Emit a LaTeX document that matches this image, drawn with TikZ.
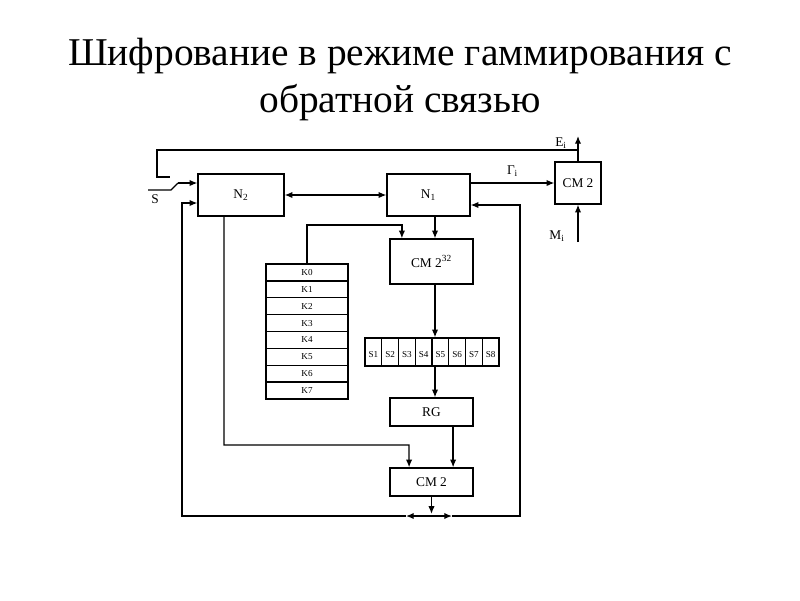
\documentclass[tikz,border=0pt]{standalone}
\usepackage{fontspec}
\setmainfont{Liberation Serif}
\usetikzlibrary{arrows.meta}

\begin{document}
\begin{tikzpicture}[x=0.025cm, y=-0.025cm, line width=0.9pt,
  block/.style={draw, inner sep=0pt, font={\fontsize{9.5}{11}\selectfont}},
  kcell/.style={draw, inner sep=0pt, minimum width=2.05cm, minimum height=0.422cm,
    font={\fontsize{6.5}{7}\selectfont}},
  scell/.style={draw, inner sep=0pt, minimum width=0.419cm, minimum height=0.7cm,
    text height=1.6ex, text depth=0pt, font={\fontsize{6.5}{7}\selectfont}},
  lbl/.style={inner sep=0pt, font={\fontsize{9.5}{11}\selectfont}},
  arr/.style={-{Latex[length=5.5pt,width=4.5pt]}},
  arrboth/.style={{Latex[length=5.5pt,width=4.5pt]}-{Latex[length=5.5pt,width=4.5pt]}}]

\useasboundingbox (0,0) rectangle (800,600);

\node [align=center, inner sep=0pt, anchor=north, font={\fontsize{28}{33}\selectfont}] (title)
 at (400, 38) {Шифрование в режиме гаммирования с\\обратной связью};

\node [block, minimum width=2.15cm, minimum height=1.05cm] (N2) at (241, 195) {N\textsubscript{2}};
\node [block, minimum width=2.075cm, minimum height=1.05cm] (N1) at (428.5, 195) {N\textsubscript{1}};
\node [block, minimum width=1.15cm, minimum height=1.05cm] (CMr) at (578, 183) {СМ 2};
\node [block, minimum width=2.075cm, minimum height=1.125cm] (CM32) at (431.5, 261.5) {СМ 2\textsuperscript{32}};
\node [block, minimum width=2.075cm, minimum height=0.7cm] (RG) at (431.5, 412) {RG};
\node [block, minimum width=2.075cm, minimum height=0.7cm] (CMb) at (431.5, 482) {СМ 2};

\foreach \i in {0,...,7}
  \node [kcell] (k\i) at (307, {264+16.875*(\i+0.5)}) {K\i};

\foreach \i in {1,...,8}
  \node [scell] (s\i) at ({365+16.75*(\i-0.5)}, 352) {S\i};

\coordinate (col) at (435, 0);
\coordinate (ejoin) at (578, 150);
\coordinate (eout) at (578, 136);
\coordinate (min) at (578, 242);
\coordinate (fb) at (157, 177);
\coordinate (swtop) at (170, 177);
\coordinate (sin) at (148, 190);
\coordinate (swpivot) at (171, 190);
\coordinate (swblade) at (178, 183);
\coordinate (kup) at (307, 225);
\coordinate (n2d) at (224, 445);
\coordinate (bjoin) at (431.5, 516);
\coordinate (bl) at (406, 516);
\coordinate (br) at (452, 516);
\coordinate (lc) at (182, 516);
\coordinate (rc) at (520, 516);

% feedback and key switch
\draw (ejoin) -| (fb) -- (swtop);
\draw (sin) -- (swpivot) -- (swblade);
\draw [arr] (swblade) -- (swblade -| N2.west);
\node [lbl] (S) at (155, 199) {S};

\draw [arrboth] (N2.east) -- (N1.west);
\draw [arr] (CMr.west -| N1.east) -- node [lbl, above=4pt] (gamma) {Γ\textsubscript{i}} (CMr.west);
\draw [arr] (CMr.north) -- (eout);
\node [lbl] (E) at (561, 143) {E\textsubscript{i}};
\draw [arr] (min) -- (CMr.south);
\node [lbl] (M) at (557, 236) {M\textsubscript{i}};

\draw [arr] (N1.south -| col) -- (CM32.north -| col);
\draw [arr] (k0.north) -- (kup) -| ([xshift=-0.74cm]CM32.north);
\draw [arr] (CM32.south -| col) -- (s5.north -| col);
\draw [arr] (s5.south -| col) -- (RG.north -| col);
\draw [arr] ([xshift=0.54cm]RG.south) -- ([xshift=0.54cm]CMb.north);
\draw [arr] ([xshift=-0.425cm]N2.south) -- (n2d) -| ([xshift=-0.56cm]CMb.north);

% output loop back to N2 and N1
\draw [arr] (CMb.south) -- ([yshift=1.5pt]bjoin);
\draw [arr] (bjoin) -- (bl);
\draw [arr] (bl) -- (lc) |- ([yshift=-0.2cm]N2.west);
\draw [arr] (bjoin) -- (br);
\draw [arr] (br) -- (rc) |- ([yshift=-0.25cm]N1.east);

\end{tikzpicture}
\end{document}
